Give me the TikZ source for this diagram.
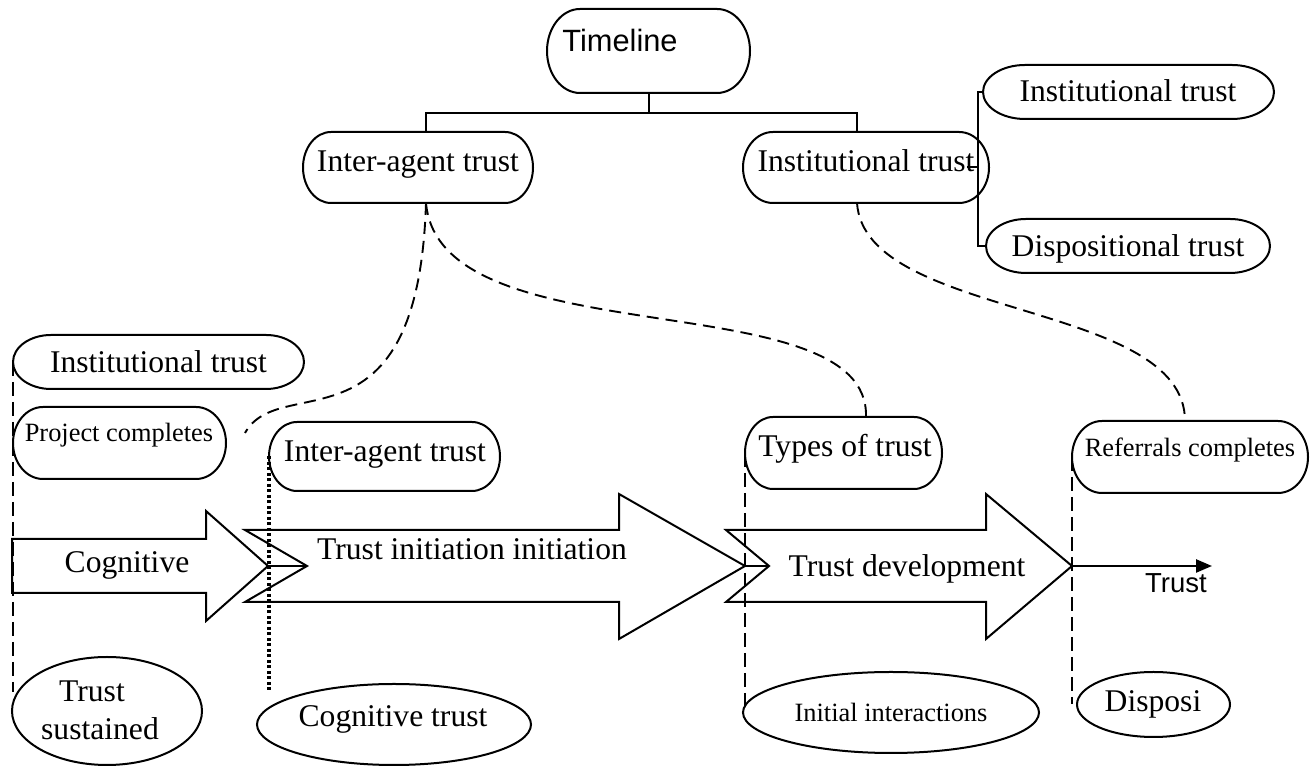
\documentclass[tikz,border=0pt]{standalone}
\usepackage{fontspec}
\setmainfont{Liberation Serif}
\newfontfamily\arialfam{Liberation Sans}
\usetikzlibrary{calc,shapes.geometric,arrows.meta}

\tikzset{
  line/.style={line width=2pt},
  frame/.style={rectangle, draw=none, inner sep=0pt, outer sep=0pt},
  outline/.style={line width=2pt, line join=round},
  oval/.style={ellipse, draw, line width=2pt, inner sep=0pt, outer sep=0pt},
  lbl/.style={inner sep=0pt, anchor=base, font=\fontsize{31.6}{36}\selectfont},
  lbls/.style={inner sep=0pt, anchor=base, font=\fontsize{26.4}{30}\selectfont},
  lblsans/.style={inner sep=0pt, anchor=base, font=\arialfam\fontsize{30.8}{36}\selectfont},
  lblsanss/.style={inner sep=0pt, anchor=base, font=\arialfam\fontsize{27.5}{32}\selectfont},
  blockarrow/.style={draw, fill=white, line width=2pt, line join=miter},
  guide/.style={dash pattern=on 14pt off 6pt, line width=2.2pt},
  dotguide/.style={dash pattern=on 3pt off 2.5pt, line width=3.5pt},
  link/.style={dash pattern=on 12pt off 7pt, line width=1.9pt},
}

% rounded box with elliptical ends: name, cx, cy, width, height, end radius
\newcommand\pill[6]{%
  \node[frame, minimum width=#4pt, minimum height=#5pt] (#1) at (#2,#3) {};
  \draw[outline] ($(#1.north west)+(#6,0)$) -- ($(#1.north east)+(-#6,0)$)
    arc[start angle=90, end angle=-90, x radius=#6pt, y radius={#5pt/2}]
    -- ($(#1.south west)+(#6,0)$)
    arc[start angle=270, end angle=90, x radius=#6pt, y radius={#5pt/2}] -- cycle;
}

\begin{document}
\begin{tikzpicture}[x=1pt,y=1pt]
\useasboundingbox (0,0) rectangle (1312,767);

% ---- phase arrows along the time axis
\coordinate (cogtip) at (268,201);
\coordinate (ininotch) at (307,201);
\coordinate (initip) at (745,201);
\coordinate (devnotch) at (769,201);
\coordinate (devtip) at (1072,201);
\coordinate (trustend) at (1212,201);

\draw[blockarrow] (12,228) -- (206,228) -- (206,256) -- (cogtip) -- (206,146)
  -- (206,174) -- (12,174) -- cycle;
\draw[blockarrow] (245,237) -- (619,237) -- (619,273) -- (initip) -- (619,128)
  -- (619,165) -- (245,165) -- (ininotch) -- cycle;
\draw[blockarrow] (726,237) -- (986,237) -- (986,273) -- (devtip) -- (986,128)
  -- (986,165) -- (726,165) -- (devnotch) -- cycle;

\draw[line] (cogtip) -- (ininotch);
\draw[line] (initip) -- (devnotch);
\draw[line width=2.4pt, -{Triangle[length=16pt,width=13pt]}] (devtip) -- (trustend);

\node[lbl] (cogtxt) at (127,194) {Cognitive};
\node[lbl] (initxt) at (472,207) {Trust initiation initiation};
\node[lbl] (devtxt) at (907,190) {Trust development};
\node[lblsanss] (trusttxt) at (1176,174) {Trust};

% ---- boxes
\pill{tl}{648.5}{716}{203}{84}{33}
\node[lblsans] (tltxt) at (620,715) {Timeline};
\pill{ia1}{418}{599.5}{230}{71}{28}
\node[lbl] (ia1txt) at (418,595) {Inter-agent trust};
\pill{it1}{866}{599.5}{246}{71}{30}
\node[lbl] (it1txt) at (866,595) {Institutional trust};
\pill{it2}{1128.5}{675}{291}{54}{42}
\node[lbl] (it2txt) at (1128,665) {Institutional trust};
\pill{dt}{1128}{521}{284}{54}{40}
\node[lbl] (dttxt) at (1128,510) {Dispositional trust};
\pill{it3}{158.5}{405}{291}{54}{38}
\node[lbl] (it3txt) at (158.5,394) {Institutional trust};
\pill{pc}{119.5}{324}{213}{72}{30}
\node[lbls] (pctxt) at (119,325) {Project completes};
\pill{ia2}{384.5}{310.5}{231}{69}{28}
\node[lbl] (ia2txt) at (385,305) {Inter-agent trust};
\pill{tt}{843.5}{314}{197}{72}{28}
\node[lbl] (tttxt) at (845,310) {Types of trust};
\pill{rc}{1190}{310}{236}{72}{30}
\node[lbls] (rctxt) at (1190,310) {Referrals completes};

% ---- ellipses
\node[oval, minimum width=190pt, minimum height=108pt] (ts) at (107,56) {};
\node[lbl] (tstxta) at (92,65) {Trust};
\node[lbl] (tstxtb) at (100,27) {sustained};
\node[oval, minimum width=274pt, minimum height=81pt] (ct) at (394,42.5) {};
\node[lbl] (cttxt) at (393,40) {Cognitive trust};
\node[oval, minimum width=296pt, minimum height=81pt] (ii) at (891,54.5) {};
\node[lbls] (iitxt) at (891,45) {Initial interactions};
\node[oval, minimum width=153pt, minimum height=65pt] (dp) at (1153.5,62.5) {};
\node[lbl] (dptxt) at (1153,55) {Disposi};

% ---- tree under the timeline
\coordinate (bar) at (648.5,654);
\draw[line] (tl.south) -- (bar);
\draw[line] ($(ia1.north)+(8,0)$) |- (bar) -| ($(it1.north)+(-9,0)$);

\coordinate (br) at ($(it1.east)+(-11,0)$);
\draw[line] ($(it1.east)+(-22,0)$) -- (br);
\draw[line] (it2.west) -| (br) |- (dt.west);

% ---- vertical markers
\draw[guide] (it3.west) -- (it3.west |- ts.168);
\draw[dotguide] (ia2.west) -- (ia2.west |- ct.157);
\draw[guide] (tt.west) -- (tt.west |- ii.west);
\draw[guide] (rc.west) -- (rc.west |- dp.west);

% ---- dashed links
\coordinate (c1end) at (245,334);
\draw[link] ($(ia1.south)+(8,0)$) .. controls (418,307) and (280,397) .. (c1end);
\draw[link] ($(ia1.south)+(8,0)$) .. controls (440,407) and (870,487) .. ($(tt.north)+(22.5,0)$);
\draw[link] ($(it1.south)+(-9,0)$) .. controls (865,447) and (1185,467) .. ($(rc.north)+(-5,0)$);
\end{tikzpicture}
\end{document}
